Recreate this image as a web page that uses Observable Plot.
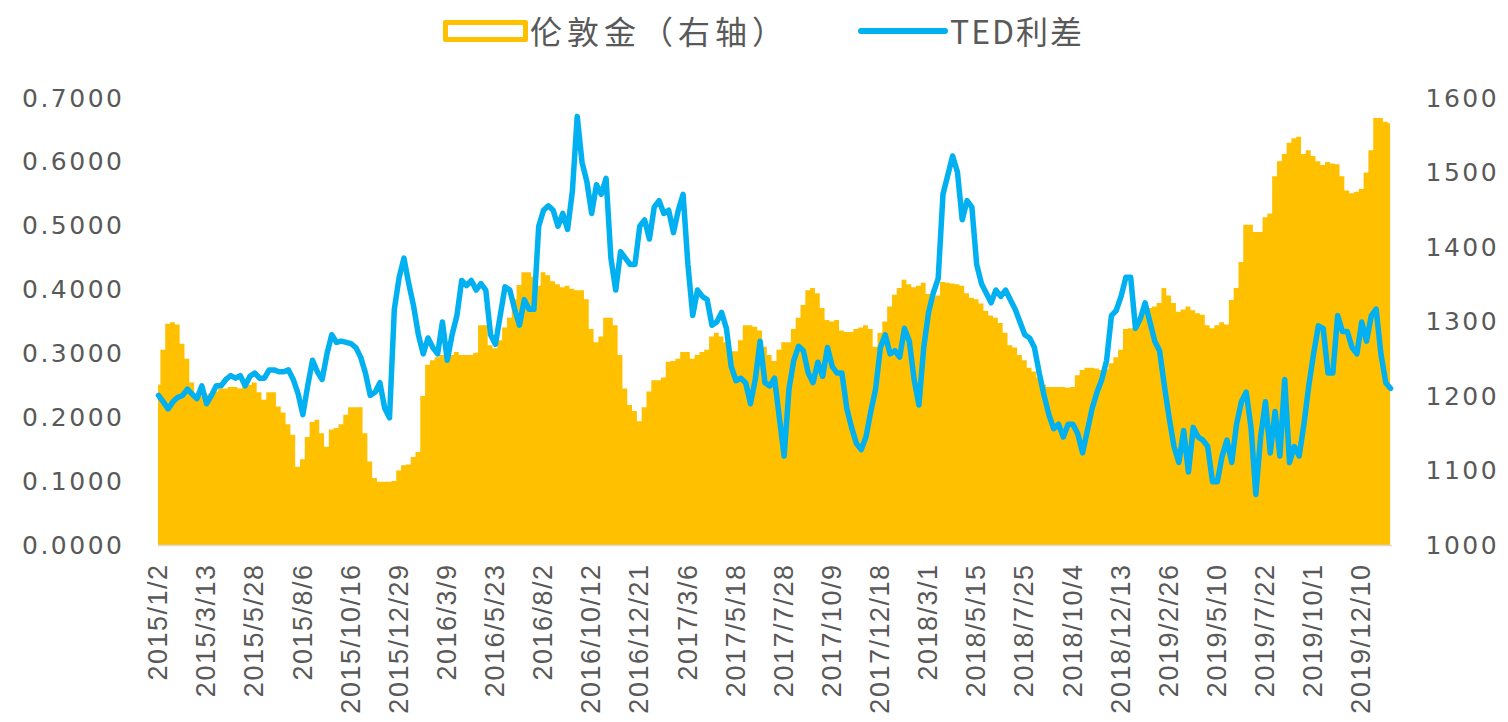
<!DOCTYPE html>
<html>
<head>
<meta charset="utf-8">
<script src="https://cdn.jsdelivr.net/npm/d3@7"></script>
<script src="https://cdn.jsdelivr.net/npm/@observablehq/plot@0.6"></script>
<style>
  html, body { margin: 0; padding: 0; background: #fff; }
  #wrap { position: relative; width: 1508px; height: 722px; overflow: hidden; }
  #legend { position: absolute; left: 0; top: 0; width: 1508px; height: 62px; }
  .sw-gold { position: absolute; left: 443px; top: 20px; width: 75px; height: 12px; border: 5px solid #FFC000; border-radius: 2px; background: #fff; }
  .sw-blue { position: absolute; left: 858px; top: 28px; width: 90px; height: 6px; border-radius: 3px; background: #00B0F0; }
  .lg-text { position: absolute; top: 9px; font-family: "Noto Sans CJK SC", "DejaVu Sans", sans-serif; font-size: 32px; line-height: 42px; color: #595959; white-space: nowrap; }
  #chart { position: absolute; left: 0; top: 62px; }
</style>
</head>
<body>
<div id="wrap">
  <div id="legend">
    <div class="sw-gold"></div>
    <div class="lg-text" id="lg1" style="left:530px; letter-spacing:5px;"></div>
    <div class="sw-blue"></div>
    <div class="lg-text" id="lg2" style="left:950px; letter-spacing:2px;"></div>
  </div>
  <div id="chart"></div>
</div>
<script>
// ---- data ----
const seriesNames = ["伦敦金（右轴）", "TED利差"];
// business-day categories start 2015/1/2; one sample every 5 business days
const sampleStep = 5;
const labelEvery = 50;
const tickLabels = ["2015/1/2","2015/3/13","2015/5/28","2015/8/6","2015/10/16","2015/12/29",
  "2016/3/9","2016/5/23","2016/8/2","2016/10/12","2016/12/21",
  "2017/3/6","2017/5/18","2017/7/28","2017/10/9","2017/12/18",
  "2018/3/1","2018/5/15","2018/7/25","2018/10/4","2018/12/13",
  "2019/2/26","2019/5/10","2019/7/22","2019/10/1","2019/12/10"];
const leftTicks = [0, 0.1, 0.2, 0.3, 0.4, 0.5, 0.6, 0.7];
const rightTicks = [1000, 1100, 1200, 1300, 1400, 1500, 1600];

// TED spread (left axis)
const ted = [
0.235,0.225,0.214,0.225,0.232,0.235,0.245,0.237,0.230,0.250,
0.222,0.235,0.250,0.250,0.260,0.266,0.262,0.266,0.250,0.265,
0.270,0.262,0.262,0.275,0.275,0.272,0.272,0.275,0.260,0.238,
0.205,0.250,0.290,0.272,0.260,0.300,0.330,0.318,0.320,0.318,
0.316,0.310,0.295,0.270,0.235,0.240,0.255,0.215,0.200,0.370,
0.420,0.450,0.410,0.375,0.330,0.300,0.325,0.310,0.300,0.350,
0.290,0.330,0.360,0.415,0.407,0.415,0.400,0.410,0.400,0.330,
0.315,0.360,0.405,0.400,0.370,0.345,0.385,0.370,0.370,0.500,
0.525,0.532,0.525,0.500,0.520,0.495,0.555,0.672,0.600,0.570,
0.520,0.565,0.550,0.575,0.450,0.400,0.460,0.450,0.440,0.440,
0.500,0.510,0.480,0.530,0.540,0.520,0.525,0.490,0.525,0.550,
0.440,0.360,0.400,0.390,0.385,0.345,0.350,0.365,0.340,0.280,
0.258,0.262,0.255,0.222,0.260,0.320,0.255,0.250,0.262,0.200,
0.140,0.245,0.290,0.312,0.305,0.270,0.255,0.287,0.265,0.310,
0.280,0.270,0.270,0.215,0.185,0.160,0.150,0.170,0.210,0.245,
0.310,0.330,0.300,0.305,0.295,0.340,0.320,0.260,0.220,0.310,
0.365,0.396,0.418,0.550,0.580,0.610,0.585,0.510,0.540,0.530,
0.440,0.410,0.395,0.380,0.400,0.390,0.400,0.385,0.370,0.350,
0.330,0.325,0.310,0.270,0.235,0.205,0.183,0.190,0.170,0.190,
0.190,0.175,0.145,0.180,0.215,0.240,0.260,0.290,0.360,0.368,
0.390,0.420,0.420,0.340,0.355,0.380,0.350,0.320,0.305,0.250,
0.200,0.155,0.130,0.180,0.115,0.185,0.170,0.165,0.155,0.100,
0.100,0.140,0.165,0.130,0.190,0.225,0.240,0.185,0.080,0.170,
0.225,0.145,0.210,0.140,0.260,0.130,0.155,0.140,0.190,0.250,
0.300,0.344,0.340,0.270,0.270,0.360,0.335,0.335,0.310,0.300,
0.350,0.320,0.360,0.370,0.300,0.255,0.246
];

// London gold (right axis)
const gold = [
1215,1262,1297,1299,1296,1270,1250,1218,1202,1200,
1202,1204,1206,1210,1210,1212,1212,1210,1212,1215,
1218,1205,1195,1205,1205,1186,1178,1162,1148,1105,
1115,1145,1165,1168,1150,1132,1155,1157,1162,1175,
1185,1185,1185,1150,1112,1090,1085,1085,1085,1086,
1100,1107,1108,1118,1125,1200,1242,1248,1252,1255,
1250,1255,1259,1255,1255,1255,1258,1295,1295,1268,
1264,1275,1292,1305,1330,1349,1366,1366,1360,1348,
1366,1362,1354,1350,1346,1348,1344,1342,1342,1330,
1290,1272,1280,1305,1305,1295,1255,1210,1188,1180,
1166,1185,1206,1221,1221,1225,1246,1247,1250,1259,
1259,1250,1255,1259,1262,1280,1285,1280,1272,1260,
1260,1275,1295,1295,1293,1288,1266,1255,1247,1262,
1272,1272,1290,1305,1322,1342,1345,1338,1318,1302,
1300,1302,1288,1286,1286,1290,1292,1295,1290,1266,
1285,1300,1320,1336,1345,1356,1350,1346,1348,1352,
1337,1332,1335,1353,1352,1351,1350,1348,1338,1332,
1330,1324,1314,1308,1305,1298,1285,1268,1265,1255,
1248,1238,1233,1225,1215,1212,1212,1212,1212,1211,
1212,1228,1235,1238,1238,1237,1235,1236,1244,1252,
1262,1290,1291,1292,1305,1318,1318,1320,1325,1345,
1335,1325,1313,1316,1320,1315,1311,1309,1295,1291,
1295,1299,1296,1329,1345,1380,1430,1430,1420,1420,
1440,1445,1495,1515,1525,1540,1546,1548,1525,1530,
1522,1515,1510,1514,1512,1511,1495,1476,1472,1474,
1478,1500,1530,1573,1573,1568,1566
];

// ---- build ----
document.getElementById("lg1").textContent = seriesNames[0];
document.getElementById("lg2").textContent = seriesNames[1];

const leftMax = 0.7, rMin = 1000, rMax = 1600;
const toLeft = g => (g - rMin) / (rMax - rMin) * leftMax;
const rows = ted.map((v, k) => ({i: k * sampleStep, ted: v, gold: gold[k]}));
const lastIdx = (ted.length - 1) * sampleStep;
const tickIdx = tickLabels.map((_, j) => j * labelEvery);

const chart = Plot.plot({
  width: 1508,
  height: 660,
  marginLeft: 158,
  marginRight: 116,
  marginTop: 36,
  marginBottom: 177,
  style: {background: "transparent", color: "#595959"},
  x: {domain: [0, lastIdx + 2], axis: null},
  y: {domain: [0, leftMax], axis: null},
  marks: [
    Plot.areaY(rows, {x: "i", y: d => toLeft(d.gold), fill: "#FFC000", curve: "step"}),
    Plot.ruleY([0], {stroke: "#D9D9D9", strokeWidth: 1.5}),
    Plot.lineY(rows, {x: "i", y: "ted", stroke: "#00B0F0", strokeWidth: 5.5, strokeLinejoin: "round", strokeLinecap: "round"}),
    Plot.axisY(leftTicks, {anchor: "left", tickSize: 0, tickPadding: 34, tickFormat: d3.format(".4f"),
      fontSize: 25, fontFamily: "DejaVu Sans", fill: "#595959", label: null}),
    Plot.axisY(rightTicks.map(toLeft), {anchor: "right", tickSize: 0, tickPadding: 33,
      tickFormat: d => String(Math.round(d / leftMax * (rMax - rMin) + rMin)),
      fontSize: 25, fontFamily: "DejaVu Sans", fill: "#595959", label: null}),
    Plot.axisX(tickIdx, {anchor: "bottom", tickSize: 0, tickPadding: 18, tickRotate: -90,
      tickFormat: d => tickLabels[Math.round(d / labelEvery)],
      fontSize: 27, fontFamily: "Liberation Sans", fill: "#595959", label: null})
  ]
});
d3.select(chart).selectAll('g[aria-label="y-axis tick label"] text').style("letter-spacing", "2.5px");
d3.select(chart).selectAll('g[aria-label="x-axis tick label"] text').style("letter-spacing", "1.5px");
document.getElementById("chart").appendChild(chart);
</script>
</body>
</html>
